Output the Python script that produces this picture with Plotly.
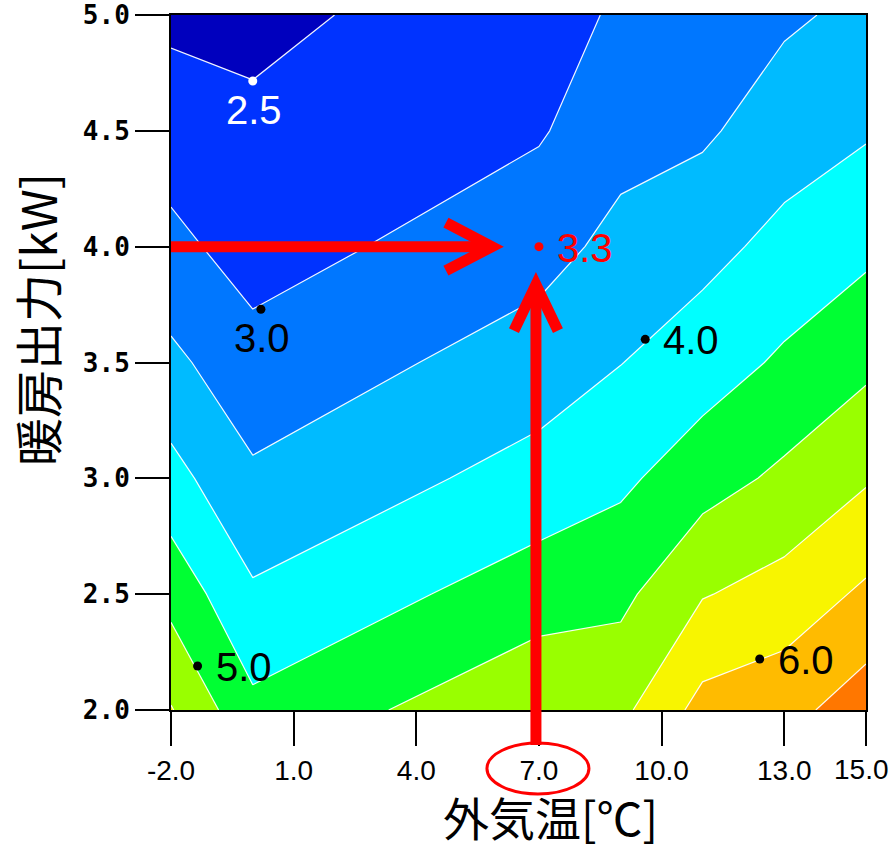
import plotly.graph_objects as go

# ---------------- data ----------------
temps = [-2, 0, 7, 9, 11, 13, 15]                 # 外気温 [°C]
outputs = [2.0, 2.5, 3.0, 3.5, 4.0, 4.5, 5.0]     # 暖房出力 [kW]
# COP grid: rows = outputs, columns = temps
cop_rows = [
    [5.53, 4.62, 5.42, 5.38, 6.17, 6.33, 6.77],   # 2.0 kW
    [4.83, 4.07, 4.76, 4.88, 5.47, 5.69, 6.09],   # 2.5 kW
    [4.17, 3.58, 4.19, 4.40, 4.79, 5.10, 5.45],   # 3.0 kW
    [3.61, 3.18, 3.73, 3.99, 4.25, 4.58, 4.89],   # 3.5 kW
    [3.13, 2.79, 3.32, 3.64, 3.85, 4.14, 4.39],   # 4.0 kW
    [2.75, 2.61, 2.95, 3.33, 3.42, 3.77, 3.95],   # 4.5 kW
    [2.40, 2.36, 2.85, 3.05, 3.22, 3.42, 3.62],   # 5.0 kW
]
level_start, level_end, level_step = 2.5, 6.5, 0.5

x_tickvals = [-2, 1, 4, 7, 10, 13, 15]
x_ticktext = ["-2.0", "1.0", "4.0", "7.0", "10.0", "13.0", "15.0"]
y_tickvals = [2.0, 2.5, 3.0, 3.5, 4.0, 4.5, 5.0]
y_ticktext = ["2.0", "2.5", "3.0", "3.5", "4.0", "4.5", "5.0"]

# labelled points on the map
label_x = [0.0, 0.2, 7.0, 9.6, -1.35, 12.4]
label_y = [4.715, 3.73, 4.0, 3.60, 2.19, 2.22]
label_text = ["2.5", "3.0", "3.3", "4.0", "5.0", "6.0"]
label_color = ["white", "black", "red", "black", "black", "black"]
label_pos = ["below", "below", "right", "right", "right", "right"]

target_temp, target_out = 7.0, 4.0

band_colors = ["#0000BE", "#0033FF", "#0077FF", "#00BBFF", "#00FFFF",
               "#00FF33", "#99FF00", "#F8F500", "#FFBB00", "#FF7700"]

# ---------------- layout geometry ----------------
W, H = 891, 850
PL, PT, PR, PB = 171, 15, 866, 710          # plot area in window pixels
ML, MT, MR, MB = PL, PT, W - PR, H - PB
PW, PH = PR - PL, PB - PT
xmin, xmax = -2, 15
ymin, ymax = 2.0, 5.0
dx_px = (xmax - xmin) / PW      # data units per pixel
dy_px = (ymax - ymin) / PH

def py(v):  # data y -> paper y
    return (v - ymin) / (ymax - ymin)

n = len(band_colors)
colorscale = [[i / (n - 1), c] for i, c in enumerate(band_colors)]

sans = "Liberation Sans, Arial, sans-serif"
cjk = "Noto Sans CJK JP, sans-serif"
tick_font = dict(family=sans, size=28, color="black")

fig = go.Figure()
fig.add_trace(go.Contour(
    x=temps, y=outputs, z=cop_rows,
    colorscale=colorscale, showscale=False,
    contours=dict(start=level_start, end=level_end, size=level_step,
                  coloring="fill", showlines=True),
    line=dict(color="rgba(255,255,255,0.95)", width=1.2, smoothing=0),
    hoverinfo="skip",
))

fig.add_trace(go.Scatter(
    x=label_x, y=label_y, mode="markers",
    marker=dict(size=9, color=label_color), hoverinfo="skip", showlegend=False,
))

for x, y, t, c, p in zip(label_x, label_y, label_text, label_color, label_pos):
    if p == "below":
        fig.add_annotation(x=x, y=y, text=t, showarrow=False, xanchor="center",
                           yanchor="middle", yshift=-29, xshift=1,
                           font=dict(family=sans, size=40, color=c))
    else:
        fig.add_annotation(x=x, y=y, text=t, showarrow=False, xanchor="left",
                           yanchor="middle", xshift=16, yshift=-1,
                           font=dict(family=sans, size=40, color=c))

red = "#FF0000"
aw = 11
# horizontal arrow
h_tip = target_temp - 47 * dx_px
fig.add_shape(type="line", xref="x", yref="y", x0=xmin, x1=h_tip - 4 * dx_px,
              y0=target_out, y1=target_out, line=dict(color=red, width=aw))
fig.add_shape(type="path", xref="x", yref="y",
              path=f"M {h_tip - 46*dx_px} {target_out + 24*dy_px} L {h_tip} {target_out} "
                   f"L {h_tip - 46*dx_px} {target_out - 24*dy_px}",
              line=dict(color=red, width=aw))
# vertical arrow
v_x = target_temp - 3 * dx_px
v_tip = target_out - 38 * dy_px
fig.add_shape(type="line", xref="x", yref="paper", x0=v_x, x1=v_x,
              y0=-35 / PH, y1=py(v_tip) - 4 / PH, line=dict(color=red, width=aw))
fig.add_shape(type="path", xref="x", yref="y",
              path=f"M {v_x - 22*dx_px} {v_tip - 46*dy_px} L {v_x} {v_tip} "
                   f"L {v_x + 22*dx_px} {v_tip - 46*dy_px}",
              line=dict(color=red, width=aw))
# ellipse around the 7.0 tick label
fig.add_shape(type="circle", xref="x", yref="paper",
              x0=target_temp - 52 * dx_px, x1=target_temp + 50 * dx_px,
              y0=-84 / PH, y1=-33 / PH, line=dict(color=red, width=3))

# last x tick label is drawn as an annotation nudged left so it stays inside the window
last_label = x_ticktext[-1]
axis_ticktext = x_ticktext[:-1] + [""]
fig.add_annotation(text=last_label, xref="x", yref="paper", x=x_tickvals[-1],
                   y=(PB - 769) / PH, xanchor="center", yanchor="middle",
                   xshift=-5, showarrow=False, font=tick_font)

fig.add_annotation(text="外気温[℃]", xref="paper", yref="paper",
                   x=(550 - PL) / PW, y=(PB - 816) / PH,
                   showarrow=False, xanchor="center", yanchor="middle",
                   font=dict(family=cjk, size=46, color="black"))
fig.add_annotation(text="暖房出力[kW]", xref="paper", yref="paper",
                   x=(36 - PL) / PW, y=(PB - 320) / PH, textangle=-90,
                   showarrow=False, xanchor="center", yanchor="middle",
                   font=dict(family=cjk, size=48, color="black"))

fig.update_layout(
    width=W, height=H, margin=dict(l=ML, r=MR, t=MT, b=MB, pad=0),
    paper_bgcolor="white", plot_bgcolor="white", showlegend=False,
    xaxis=dict(range=[xmin, xmax], tickvals=x_tickvals, ticktext=axis_ticktext,
               ticks="outside", ticklen=34, tickwidth=2, tickcolor="black",
               showline=True, linecolor="black", linewidth=2, mirror=True,
               showgrid=False, zeroline=False, automargin=False,
               ticklabeloverflow="allow", tickfont=tick_font),
    yaxis=dict(range=[ymin, ymax], tickvals=y_tickvals, ticktext=y_ticktext,
               ticks="outside", ticklen=34, tickwidth=2, tickcolor="black",
               showline=True, linecolor="black", linewidth=2, mirror=True,
               showgrid=False, zeroline=False, automargin=False,
               ticklabeloverflow="allow",
               tickfont=dict(family="DejaVu Sans Mono", size=26, color="black",
                             weight="bold")),
)

# remove the default 8px page margin so the figure fills the window exactly
fig.write_html("out.html", config={"displayModeBar": False},
               post_script="document.body.style.margin='0px';")
